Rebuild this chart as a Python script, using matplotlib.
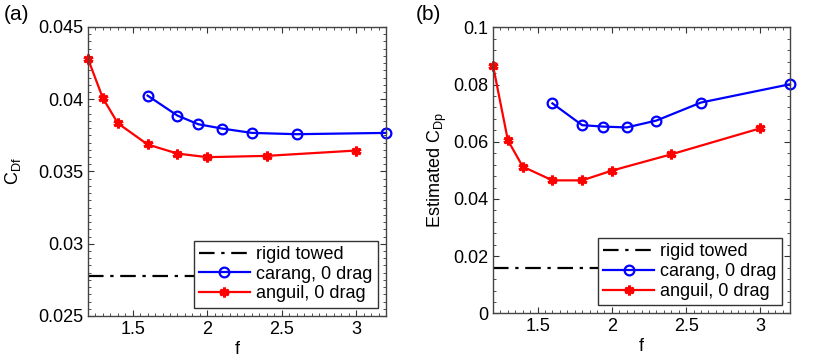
import matplotlib
matplotlib.use("Agg")
from matplotlib import pyplot as plt
from matplotlib.ticker import MultipleLocator
import numpy as np

plt.rcParams['font.family'] = ['Liberation Sans', 'DejaVu Sans']
plt.rcParams['mathtext.fontset'] = 'custom'
plt.rcParams['mathtext.rm'] = 'Liberation Sans'
plt.rcParams['mathtext.it'] = 'Liberation Sans'

# carangiform, 0 drag
f_car = [1.6, 1.8, 1.94, 2.1, 2.3, 2.6, 3.2]
cdf_car = [0.04025, 0.03887, 0.03827, 0.03797, 0.03767, 0.03758, 0.03767]
cdp_car = [0.0734, 0.0658, 0.0653, 0.0650, 0.0674, 0.0737, 0.0801]

# anguilliform, 0 drag
f_ang = [1.2, 1.3, 1.4, 1.6, 1.8, 2.0, 2.4, 3.0]
cdf_ang = [0.04279, 0.04007, 0.03834, 0.03687, 0.03624, 0.03599, 0.03608, 0.03645]
cdp_ang = [0.0866, 0.0605, 0.0513, 0.0465, 0.0465, 0.0499, 0.0556, 0.0647]

# rigid towed reference (line ends under the legend)
f_rigid = [1.2, 2.6]
cdf_rigid = [0.02776, 0.02776]
cdp_rigid = [0.0157, 0.0157]

fig = plt.figure(figsize=(8.31, 3.64), dpi=100)
ax1 = fig.add_axes([0.1059, 0.1319, 0.3586, 0.794])
ax2 = fig.add_axes([0.5933, 0.139, 0.3574, 0.786])

star = (6, 2, 0)
fs = 13


def style(ax, ylim, ymaj, ymin):
    ax.set_xlim(1.2, 3.2)
    ax.set_ylim(*ylim)
    ax.xaxis.set_major_locator(MultipleLocator(0.5))
    ax.xaxis.set_minor_locator(MultipleLocator(0.05))
    ax.yaxis.set_major_locator(MultipleLocator(ymaj))
    ax.yaxis.set_minor_locator(MultipleLocator(ymin))
    ax.tick_params(which='both', direction='in', top=True, right=True,
                   labelsize=fs, color='#333333')
    ax.tick_params(which='major', length=4.5, width=0.8)
    ax.tick_params(which='minor', length=2.2, width=0.6)
    for s in ax.spines.values():
        s.set_color('#444444')
        s.set_linewidth(1.0)
    ax.set_xlabel("f", fontsize=fs, labelpad=2)


for ax, cdr, car, ang in [(ax1, cdf_rigid, cdf_car, cdf_ang),
                          (ax2, cdp_rigid, cdp_car, cdp_ang)]:
    ax.plot(f_rigid, cdr, color='black', lw=1.6, ls=(0, (7, 3, 1.5, 3)),
            label='rigid towed')
    ax.plot(f_car, car, color='#0000ff', lw=1.6, marker='o', ms=7,
            mfc='none', mew=1.6, label='carang, 0 drag', clip_on=False)
    ax.plot(f_ang, ang, color='#ff0000', lw=1.6, marker=star, ms=7,
            mew=2.2, label='anguil, 0 drag', clip_on=False)
    leg = ax.legend(loc='lower right', fontsize=fs, frameon=True, fancybox=False,
                    framealpha=1, borderpad=0.3, labelspacing=0.15,
                    handlelength=2.8, handletextpad=0.35, borderaxespad=0.45)
    leg.get_frame().set_edgecolor('#333333')
    leg.get_frame().set_linewidth(1.0)

style(ax1, (0.025, 0.045), 0.005, 0.0005)
style(ax2, (0.0, 0.1), 0.02, 0.004)
ax1.set_yticks([0.025, 0.03, 0.035, 0.04, 0.045])
ax1.set_yticklabels(['0.025', '0.03', '0.035', '0.04', '0.045'])
ax2.set_yticks([0, 0.02, 0.04, 0.06, 0.08, 0.1])
ax2.set_yticklabels(['0', '0.02', '0.04', '0.06', '0.08', '0.1'])
ax1.set_xticks([1.5, 2, 2.5, 3])
ax1.set_xticklabels(['1.5', '2', '2.5', '3'])
ax2.set_xticks([1.5, 2, 2.5, 3])
ax2.set_xticklabels(['1.5', '2', '2.5', '3'])

ax1.set_ylabel(r"C$_{\mathrm{Df}}$", fontsize=fs, labelpad=11)
ax2.set_ylabel(r"Estimated C$_{\mathrm{Dp}}$", fontsize=fs, labelpad=3)

fig.text(0.004, 0.985, "(a)", fontsize=15, va='top', ha='left')
fig.text(0.5, 0.985, "(b)", fontsize=15, va='top', ha='left')

fig.savefig("out.png", dpi=100)
